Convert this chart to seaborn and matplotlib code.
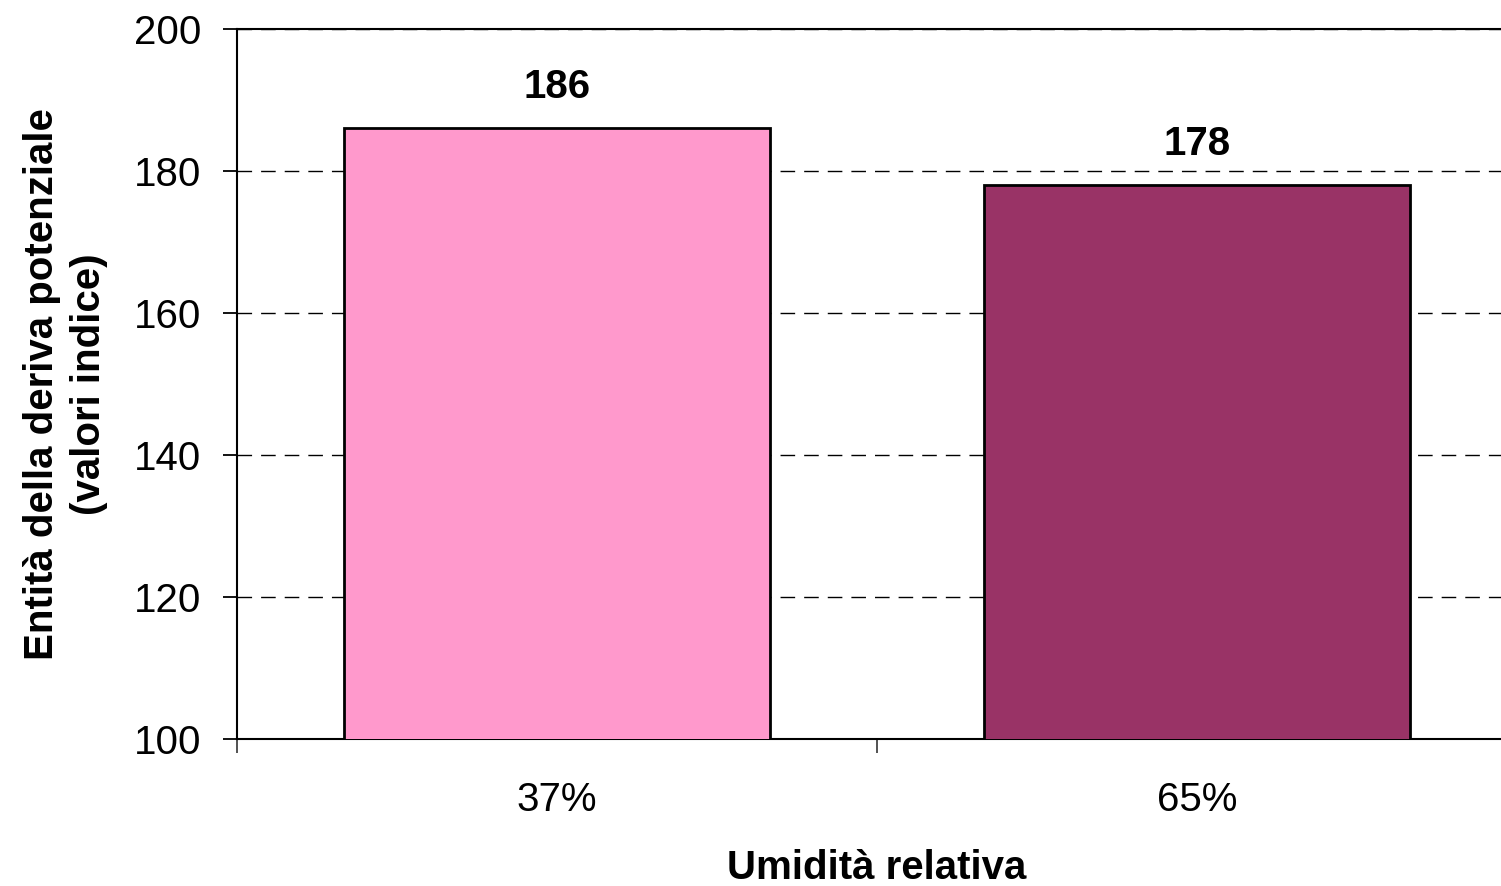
import matplotlib
matplotlib.use("Agg")
import matplotlib.pyplot as plt
import pandas as pd
import seaborn as sns
from matplotlib.ticker import FixedLocator

categories = ["37%", "65%"]
values = [186, 178]
colors = ["#FF99CC", "#993366"]

sns.set_style("white")
plt.rcParams["font.family"] = ["Liberation Sans", "DejaVu Sans"]
plt.rcParams["text.color"] = "black"
plt.rcParams["axes.labelcolor"] = "black"
plt.rcParams["xtick.color"] = "black"
plt.rcParams["ytick.color"] = "black"

df = pd.DataFrame({"umidita": categories, "valore": values})

fig = plt.figure(figsize=(15.01, 8.86), dpi=100)
ax = fig.add_axes([237 / 1501, 1 - 739 / 886, 1280 / 1501, 710 / 886])

sns.barplot(data=df, x="umidita", y="valore", hue="umidita", palette=colors,
            legend=False, width=0.665, edgecolor="black", linewidth=2.0,
            saturation=1, ax=ax, zorder=3)

ax.set_ylim(100, 200)
ax.set_xlim(-0.5, 1.5)
ax.set_yticks(range(100, 201, 20))
ax.yaxis.grid(True, color="black", linestyle=(0, (10.5, 6.5)), linewidth=1.0, zorder=0)
ax.set_axisbelow(True)

for cont in ax.containers:
    ax.bar_label(cont, fmt="%d", padding=16, fontsize=29, fontweight="bold")

ax.xaxis.set_minor_locator(FixedLocator([-0.5, 0.5, 1.5]))
ax.tick_params(axis="x", which="major", length=0, pad=30, labelsize=29)
ax.tick_params(axis="x", which="minor", direction="out", length=10, width=1.3,
               color="#444444", bottom=True)
ax.tick_params(axis="y", direction="out", length=10, width=1.3, left=True,
               pad=16, labelsize=29)

for side in ["left", "bottom", "top"]:
    ax.spines[side].set_visible(True)
    ax.spines[side].set_color("black")
    ax.spines[side].set_linewidth(1.5)
ax.spines["right"].set_visible(False)

ax.set_xlabel("Umidità relativa", fontsize=29, fontweight="bold", labelpad=22)
ax.set_ylabel("Entità della deriva potenziale\n(valori indice)", fontsize=29,
              fontweight="bold", labelpad=18, linespacing=1.3)

fig.savefig("out.png", dpi=100)
